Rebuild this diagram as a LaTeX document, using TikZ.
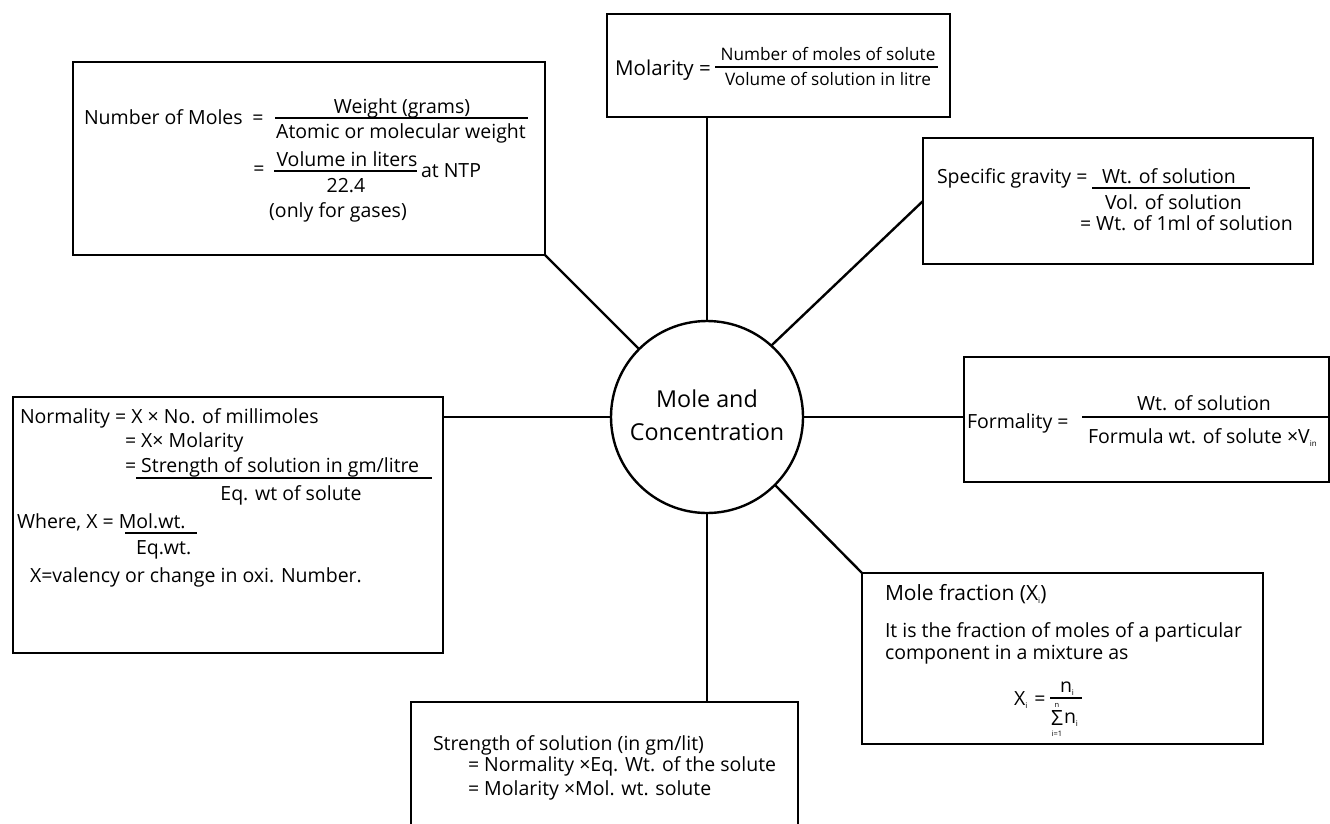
\documentclass[tikz,border=0pt]{standalone}
\usepackage{fontspec}
\setmainfont{Open Sans}
\newcommand\mysub[1]{\raisebox{-0.35ex}{\fontsize{8}{8}\selectfont #1}}
\tikzset{
  boxnode/.style={draw, line width=2.4pt, inner sep=0pt, outer sep=0pt, anchor=north west},
  link/.style={line width=2.4pt},
  fbar/.style={line width=2pt},
  txt/.style={inner sep=0pt, outer sep=0pt, font=\fontsize{19.5}{23}\selectfont},
  smalltxt/.style={inner sep=0pt, outer sep=0pt, font=\fontsize{17.2}{20}\selectfont},
  bigtxt/.style={inner sep=0pt, outer sep=0pt, font=\fontsize{21}{25}\selectfont},
  tinytxt/.style={inner sep=0pt, outer sep=0pt, font=\fontsize{7.5}{8}\selectfont},
}
\begin{document}
\begin{tikzpicture}[x=1pt,y=-1pt]
\useasboundingbox (0,0) rectangle (1330,823);
\clip (0,0) rectangle (1330,823);
\fill[white] (0,0) rectangle (1330,823);

% central circle
\node[circle, draw, line width=2.4pt, minimum size=192pt, inner sep=0pt, outer sep=0pt] (c) at (707,417) {};
\node[inner sep=0pt, font=\fontsize{23.3}{28}\selectfont, anchor=base] (c1) at (707,407) {Mole and};
\node[inner sep=0pt, font=\fontsize{23.3}{28}\selectfont, anchor=base] (c2) at (707,440) {Concentration};

% boxes
\node[boxnode, minimum width=472pt, minimum height=193pt] (moles) at (73,62) {};
\node[boxnode, minimum width=343pt, minimum height=103pt] (molar) at (607,14) {};
\node[boxnode, minimum width=390pt, minimum height=126pt] (sg) at (923,138) {};
\node[boxnode, minimum width=365pt, minimum height=125pt] (form) at (964,357) {};
\node[boxnode, minimum width=430pt, minimum height=256pt] (norm) at (13,397) {};
\node[boxnode, minimum width=401pt, minimum height=171pt] (mf) at (862,573) {};
\node[boxnode, minimum width=387pt, minimum height=140pt] (str) at (411,702) {};

% connectors
\draw[link] (moles.south east) -- (c.north west);
\draw[link] (c.north |- molar.south) -- (c.north);
\draw[link] (sg.west) -- (c.48);
\draw[link] (c.east) -- (c.east -| form.west);
\draw[link] (norm.east |- c.west) -- (c.west);
\draw[link] (c.south east) -- (mf.north west);
\draw[link] (c.south) -- (c.south |- str.north);

% Number of moles
\node[txt, anchor=base west] (m1) at (84,124) {Number of Moles};
\node[txt, anchor=base] (m2) at (258,124) {=};
\node[txt, anchor=base] (m3) at (402,113) {Weight (grams)};
\draw[fbar] (275,118) -- (528,118);
\node[txt, anchor=base] (m4) at (401,138) {Atomic or molecular weight};
\node[txt, anchor=base] (m5) at (259,175) {=};
\node[txt, anchor=base] (m6) at (347,166) {Volume in liters};
\draw[fbar] (274,171) -- (417,171);
\node[txt, anchor=base] (m7) at (346,192) {22.4};
\node[txt, anchor=base west] (m8) at (421,177) {at NTP};
\node[txt, anchor=base] (m9) at (338,217) {(only for gases)};

% Molarity
\node[inner sep=0pt, font=\fontsize{20.5}{24}\selectfont, anchor=base west] (y1) at (615,75) {Molarity =};
\draw[fbar] (715,67) -- (938,67);
\node[smalltxt, anchor=base] (y2) at (828,60) {Number of moles of solute};
\node[smalltxt, anchor=base] (y3) at (828,85) {Volume of solution in litre};

% Specific gravity
\node[txt, anchor=base west] (s1) at (937,183) {Specific gravity =};
\node[txt, anchor=base west] (s2) at (1102,183) {Wt. of solution};
\draw[fbar] (1092,188) -- (1250,188);
\node[txt, anchor=base west] (s3) at (1105,209) {Vol. of solution};
\node[txt, anchor=base west] (s4) at (1080,230) {= Wt. of 1ml of solution};

% Formality
\node[txt, anchor=base west] (f1) at (967,428) {Formality =};
\node[txt, anchor=base] (f2) at (1204,410) {Wt. of solution};
\draw[fbar] (1082,417) -- (1330,417);
\node[txt, anchor=base west] (f3) at (1088,443) {Formula wt. of solute ×V\mysub{in}};

% Normality
\node[txt, anchor=base west] (n1) at (20,423) {Normality = X × No. of millimoles};
\node[txt, anchor=base west] (n2) at (125,447) {= X× Molarity};
\node[txt, anchor=base west] (n3) at (125,472) {= Strength of solution in gm/litre};
\draw[fbar] (136,478) -- (432,478);
\node[txt, anchor=base] (n4) at (291,500) {Eq. wt of solute};
\node[txt, anchor=base west] (n5) at (17,528) {Where, X = Mol.wt.};
\draw[fbar] (125,533) -- (197,533);
\node[txt, anchor=base west] (n6) at (136,554) {Eq.wt.};
\node[txt, anchor=base west] (n7) at (30,582) {X=valency or change in oxi. Number.};

% Mole fraction
\node[bigtxt, anchor=base west] (x1) at (885,600) {Mole fraction (X\mysub{i})};
\node[txt, anchor=base west] (x2) at (885,637) {It is the fraction of moles of a particular};
\node[txt, anchor=base west] (x3) at (885,659) {component in a mixture as};
\node[txt, anchor=base west] (x4) at (1014,705) {X\mysub{i}};
\node[txt, anchor=base] (x5) at (1040,705) {=};
\node[txt, anchor=base] (x6) at (1067,692) {n\mysub{i}};
\draw[fbar] (1050,698) -- (1082,698);
\node[inner sep=0pt, font=\fontsize{21}{24}\selectfont, anchor=base] (x7) at (1057,725) {Σ};
\node[tinytxt, anchor=base] (x8) at (1057,707) {n};
\node[tinytxt, anchor=base] (x9) at (1057,736) {i=1};
\node[txt, anchor=base west] (x10) at (1064,723) {n\mysub{i}};

% Strength
\node[txt, anchor=base west] (t1) at (433,750) {Strength of solution (in gm/lit)};
\node[txt, anchor=base west] (t2) at (468,771) {= Normality ×Eq. Wt. of the solute};
\node[txt, anchor=base west] (t3) at (468,795) {= Molarity ×Mol. wt. solute};
\end{tikzpicture}
\end{document}
